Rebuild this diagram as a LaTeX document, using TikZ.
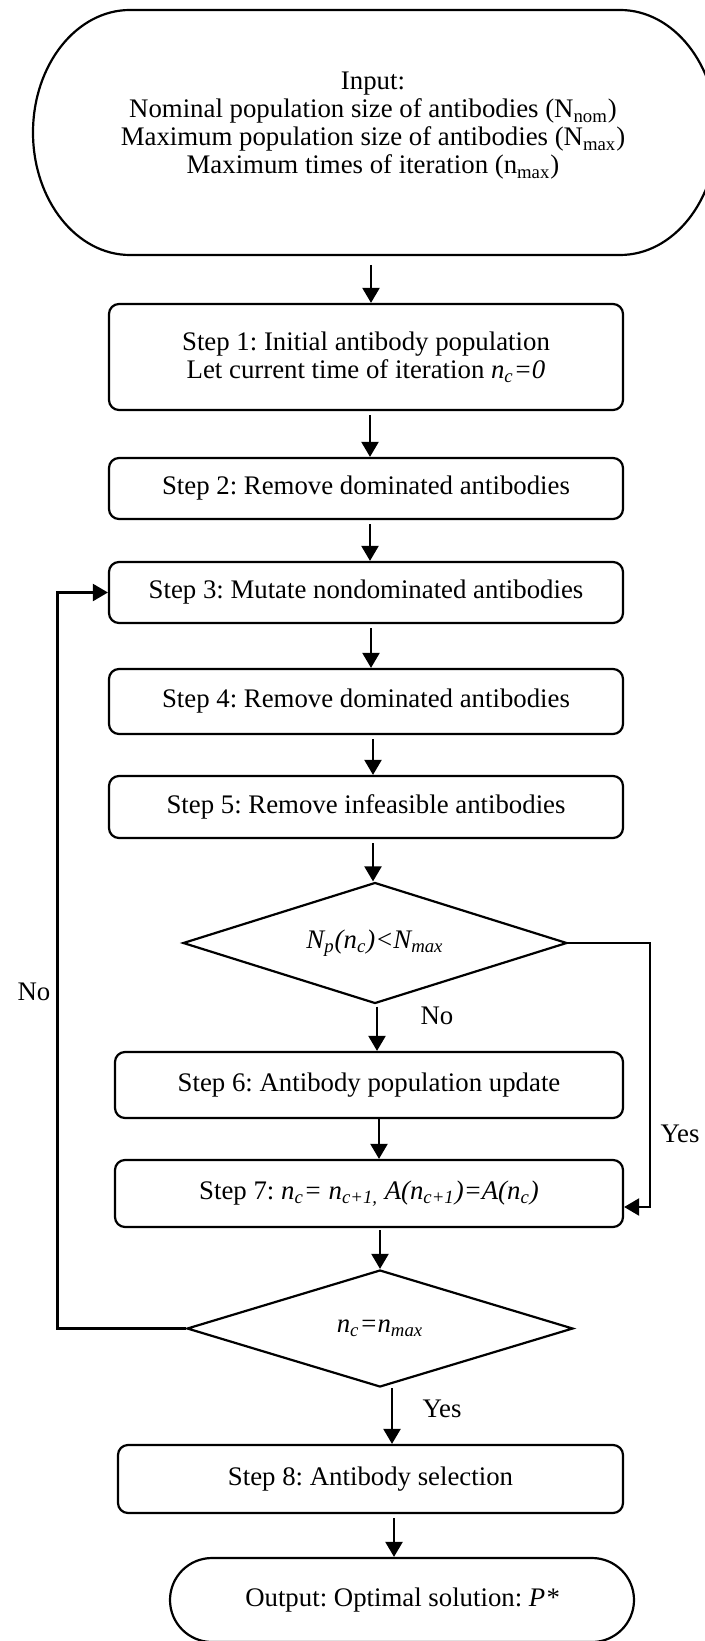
\documentclass[tikz,border=0pt]{standalone}
\usepackage{fontspec}
\setmainfont{Liberation Serif}
\usetikzlibrary{arrows.meta,shapes.geometric,shapes.misc}
\frenchspacing
\begin{document}
\begin{tikzpicture}[x=0.5pt,y=-0.5pt,
  font=\fontsize{13.4}{14}\selectfont,
  stepbox/.style={draw, line width=1.1pt, rounded corners=5pt, inner sep=0pt, align=center},
  decision/.style={draw, line width=1.1pt, diamond, inner sep=0pt},
  arr/.style={-{Triangle[length=7.5pt,width=8.5pt]}, line width=1.1pt},
  lbl/.style={inner sep=0pt, anchor=base}]
\useasboundingbox (0,0) rectangle (705,1641);

% Input terminal (its right end runs past the page edge, as in the original)
\draw[line width=1.1pt] (130,10) -- (620,10)
  arc[start angle=-90, end angle=90, x radius=97, y radius=122.5]
  -- (130,255)
  arc[start angle=90, end angle=270, x radius=97, y radius=122.5] -- cycle;
\node[align=center, inner sep=0pt] (inp) at (373,126)
  {Input:\\Nominal population size of antibodies (N\textsubscript{nom})\\Maximum population size of antibodies (N\textsubscript{max})\\Maximum times of iteration (n\textsubscript{max})};
\coordinate (inb) at (371,255);

% Steps
\node[stepbox, minimum width=257pt, minimum height=53pt] (s1) at (366,357)
  {Step 1: Initial antibody population\\Let current time of iteration \textit{n}\textsubscript{\textit{c}}\textit{=0}};
\node[stepbox, minimum width=257pt, minimum height=30.5pt] (s2) at (366,488.5) {Step 2: Remove dominated antibodies};
\node[stepbox, minimum width=257pt, minimum height=30.5pt] (s3) at (366,592.5) {Step 3: Mutate nondominated antibodies};
\node[stepbox, minimum width=257pt, minimum height=32.5pt] (s4) at (366,701.5) {Step 4: Remove dominated antibodies};
\node[stepbox, minimum width=257pt, minimum height=31pt] (s5) at (366,807) {Step 5: Remove infeasible antibodies};
\node[decision, aspect=3.17, minimum width=192pt, minimum height=60.5pt] (d1) at (375,943)
  {\textit{N\textsubscript{p}(n\textsubscript{c})<N\textsubscript{max}}};
\node[stepbox, minimum width=254pt, minimum height=33pt] (s6) at (369,1085) {Step 6: Antibody population update};
\node[stepbox, minimum width=254pt, minimum height=33.5pt] (s7) at (369,1193.5)
  {Step 7: \textit{n}\textsubscript{\textit{c}}\textit{= n}\textsubscript{\textit{c+1,}} \textit{A(n}\textsubscript{\textit{c+1}}\textit{)=A(n}\textsubscript{\textit{c}}\textit{)}};
\node[decision, aspect=3.3, minimum width=193pt, minimum height=58.5pt] (d2) at (380,1328.5)
  {\textit{n}\textsubscript{\textit{c}}\textit{=n}\textsubscript{\textit{max}}};
\node[stepbox, minimum width=252.5pt, minimum height=34pt] (s8) at (370.5,1479) {Step 8: Antibody selection};
\node[draw, line width=1.1pt, rounded rectangle, minimum width=232pt, minimum height=42pt, inner sep=0pt] (out) at (402,1600)
  {Output: Optimal solution: \textit{P*}};

% Vertical arrows
\draw[arr, shorten <=5pt] (inb) -- (inb |- s1.north);
\coordinate (a1) at (370,0); \draw[arr, shorten <=2pt] (s1.south -| a1) -- (a1 |- s2.north);
\coordinate (a2) at (370,0); \draw[arr, shorten <=2pt] (s2.south -| a2) -- (a2 |- s3.north);
\coordinate (a3) at (371,0); \draw[arr, shorten <=2pt] (s3.south -| a3) -- (a3 |- s4.north);
\coordinate (a4) at (373,0); \draw[arr, shorten <=2pt] (s4.south -| a4) -- (a4 |- s5.north);
\coordinate (a5) at (373,0); \draw[arr, shorten <=2pt] (s5.south -| a5) -- (a5 |- d1.north);
\coordinate (a6) at (377,0); \draw[arr, shorten <=1pt] (d1.south -| a6) -- (a6 |- s6.north);
\coordinate (a7) at (379,0); \draw[arr] (s6.south -| a7) -- (a7 |- s7.north);
\coordinate (a8) at (380,0); \draw[arr, shorten <=1pt] (s7.south -| a8) -- (a8 |- d2.north);
\coordinate (a9) at (392,0); \draw[arr] (d2.south -| a9) -- (a9 |- s8.north);
\coordinate (a10) at (394,0); \draw[arr, shorten <=2pt] (s8.south -| a10) -- (a10 |- out.north);

% Loop back (No)
\coordinate (lx) at (57.5,0);
\draw[arr] (d2.west) -- (d2.west -| lx) -- (lx |- s3.west) -- (s3.west);
% Yes bypass
\coordinate (rx) at (650,0);
\coordinate (y7) at ([yshift=-6.75pt]s7.east);
\draw[arr] (d1.east) -- (d1.east -| rx) -- (rx |- y7) -- (y7);

% Labels
\node[lbl] (lno) at (34,1000.5) {No};
\node[lbl] (dno) at (437,1024.5) {No};
\node[lbl] (ryes) at (680,1142) {Yes};
\node[lbl] (dyes) at (442,1417) {Yes};
\end{tikzpicture}
\end{document}
